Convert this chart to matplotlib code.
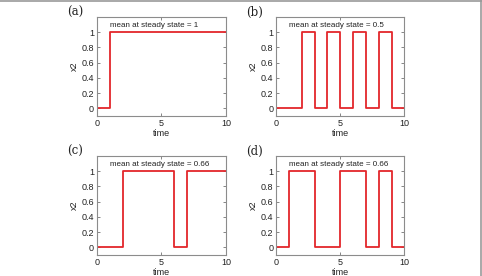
import matplotlib.pyplot as plt
from matplotlib.lines import Line2D

# switch times and levels for each panel (step, held until next time)
t_a = [0, 1, 10]
x_a = [0, 1, 1]
t_b = [0, 2, 3, 4, 5, 6, 7, 8, 9, 10]
x_b = [0, 1, 0, 1, 0, 1, 0, 1, 0, 0]
t_c = [0, 2, 6, 7, 10]
x_c = [0, 1, 0, 1, 1]
t_d = [0, 1, 3, 5, 7, 8, 9, 10]
x_d = [0, 1, 0, 1, 0, 1, 0, 0]

panel_labels = ['(a)', '(b)', '(c)', '(d)']
means = ['1', '0.5', '0.66', '0.66']

plt.rcParams['font.family'] = ['Liberation Sans', 'DejaVu Sans']

fig = plt.figure(figsize=(4.82, 2.76), dpi=100)

positions = [
    [0.201, 0.580, 0.268, 0.359],
    [0.573, 0.580, 0.266, 0.359],
    [0.201, 0.076, 0.268, 0.359],
    [0.573, 0.076, 0.266, 0.359],
]
series = [(t_a, x_a), (t_b, x_b), (t_c, x_c), (t_d, x_d)]
label_x = [0.156, 0.529, 0.156, 0.529]

for i, (pos, (t, x)) in enumerate(zip(positions, series)):
    ax = fig.add_axes(pos)
    ax.step(t, x, where='post', color='#e3262b', lw=1.3)
    ax.set_xlim(0, 10)
    ax.set_ylim(-0.1, 1.2)
    ax.set_xticks([0, 5, 10])
    ax.set_yticks([0, 0.2, 0.4, 0.6, 0.8, 1])
    ax.set_yticklabels(['0', '0.2', '0.4', '0.6', '0.8', '1'])
    ax.tick_params(direction='in', length=2, width=0.5, labelsize=6.5,
                   top=True, right=True, pad=2, colors='#555555',
                   labelcolor='#222222')
    for s in ax.spines.values():
        s.set_color('#8c8c8c')
        s.set_linewidth(0.8)
    ax.set_xlabel('time', fontsize=6.5, labelpad=1, color='#222222')
    ax.set_ylabel('x2', fontsize=6.5, labelpad=2, color='#222222')
    ax.text(1, 1.09, 'mean at steady state = ' + means[i], fontsize=5.8,
            ha='left', va='center', color='#222222')
    fig.text(label_x[i], pos[1] + pos[3] + 0.016, panel_labels[i],
             family='DejaVu Serif', fontsize=8.5, ha='center', va='center',
             color='#222222')

# frame lines from the cropped figure border
fig.add_artist(Line2D([0, 1], [0.998, 0.998], color='#999999', lw=1.2,
                      transform=fig.transFigure))
fig.add_artist(Line2D([0.997, 0.997], [0, 1], color='#999999', lw=1.2,
                      transform=fig.transFigure))

fig.savefig('out.png', dpi=100)
